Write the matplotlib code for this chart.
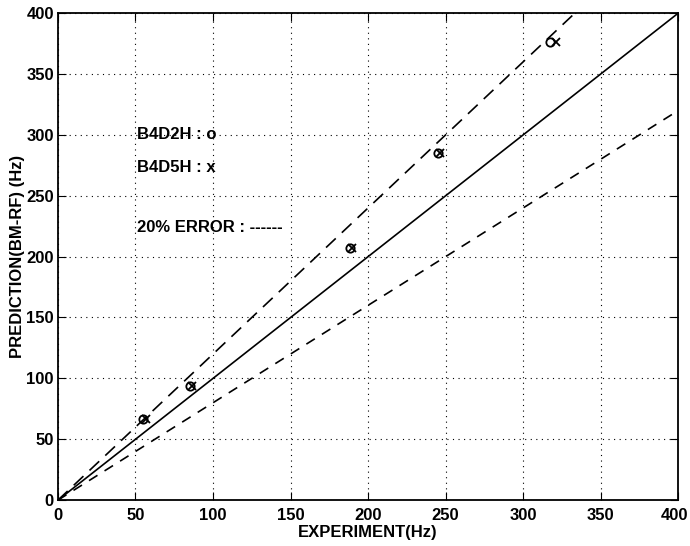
import matplotlib.pyplot as plt
import matplotlib.transforms as mtransforms
import numpy as np

exp_b4d2h = [55, 85, 188, 245, 317]
pred_b4d2h = [67, 94, 207, 285, 376]
exp_b4d5h = [56.5, 86.5, 189.5, 246.5, 321]
pred_b4d5h = [67, 94, 207, 285, 376]
ref_x = [0, 400]
error_pct = 0.2
ticks = [0, 50, 100, 150, 200, 250, 300, 350, 400]

plt.rcParams["font.family"] = "Liberation Sans"
plt.rcParams["font.weight"] = "bold"

fig = plt.figure(figsize=(6.9, 5.46), dpi=100)
ax = fig.add_axes([0.084, 0.084, 0.899, 0.892])

xr = np.array(ref_x, dtype=float)
ax.plot(xr, xr, color="black", lw=1.2)
ax.plot(xr, xr * (1 + error_pct), color="black", lw=1.2, ls=(0, (8, 5)))
ax.plot(xr, xr * (1 - error_pct), color="black", lw=1.2, ls=(0, (6, 5)))

ax.plot(exp_b4d2h, pred_b4d2h, "o", mfc="none", mec="black", ms=6, mew=1.3)
ax.plot(exp_b4d5h, pred_b4d5h, "x", color="black", ms=6, mew=1.3)

ax.text(51, 300, "B4D2H : o", fontsize=12, fontweight="bold", va="center")
ax.text(51, 273, "B4D5H : x", fontsize=12, fontweight="bold", va="center")
ax.text(51, 224, "20% ERROR : ------", fontsize=12, fontweight="bold", va="center")

ax.set_xlim(0, 400)
ax.set_ylim(0, 400)
ax.set_xticks(ticks)
ax.set_yticks(ticks)
ax.tick_params(direction="in", top=True, right=True, labelsize=12, length=6)
ax.tick_params(axis="x", pad=6)
ax.tick_params(axis="y", pad=3)
for lbl in ax.get_xticklabels() + ax.get_yticklabels():
    lbl.set_fontweight("bold")
# last x label sits a little to the left so it stays inside the figure
last = ax.get_xticklabels()[-1]
last.set_transform(last.get_transform() + mtransforms.ScaledTranslation(-4 / 100, 0, fig.dpi_scale_trans))
ax.grid(ls=(0, (1, 4)), color="black", lw=0.8)
for s in ax.spines.values():
    s.set_linewidth(1.3)

ax.set_xlabel("EXPERIMENT(Hz)", fontsize=12, fontweight="bold", labelpad=1)
ax.set_ylabel("PREDICTION(BM-RF) (Hz)", fontsize=12, fontweight="bold", labelpad=1)

fig.savefig("out.png", dpi=100)
